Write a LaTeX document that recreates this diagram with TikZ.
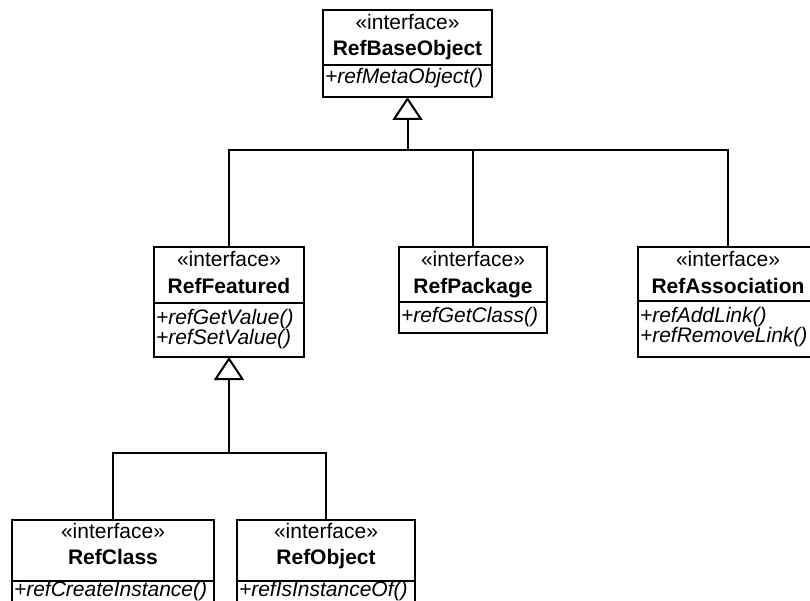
\documentclass[tikz,border=0pt]{standalone}
\usepackage{fontspec}
\setmainfont{Liberation Sans}
\usetikzlibrary{arrows.meta,calc}
\newcommand\hdrtext[3]{\rule{0pt}{#1}«interface»\\\textbf{#3}\rule[-#2]{0pt}{#2}}
\newcommand\opstext[3]{\rule{0pt}{#1}#3\rule[-#2]{0pt}{#2}}
\begin{document}
\begin{tikzpicture}[x=1pt,y=-1pt,
  hdr/.style={draw, line width=2pt, inner sep=0pt, outer sep=0pt, align=center,
    font=\fontsize{21}{26}\selectfont, anchor=north west},
  ops/.style={draw, line width=2pt, inner ysep=0pt, inner xsep=2pt, outer sep=0pt, align=left,
    font=\fontsize{21}{20}\selectfont\itshape, anchor=north west},
  gen/.style={line width=2pt, -{Triangle[open, length=23pt, width=30pt]}},
  branch/.style={line width=1.2pt}]
\useasboundingbox (0,0) rectangle (810,601);
\clip (0,0) rectangle (810,601);

% RefBaseObject
\node[hdr, minimum width=169pt] (baseh) at (323,10) {\hdrtext{20pt}{9pt}{RefBaseObject}};
\node[ops, text width=165pt] (baseo) at (baseh.south west) {\opstext{19pt}{13pt}{+refMetaObject()}};

% RefFeatured
\node[hdr, minimum width=150pt] (feath) at (154,247) {\hdrtext{20pt}{10pt}{RefFeatured}};
\node[ops, text width=146pt] (feato) at (feath.south west) {\opstext{21pt}{13pt}{+refGetValue()\\+refSetValue()}};

% RefPackage
\node[hdr, minimum width=148pt] (pkgh) at (399,247) {\hdrtext{20pt}{9pt}{RefPackage}};
\node[ops, text width=144pt] (pkgo) at (pkgh.south west) {\opstext{20pt}{11pt}{+refGetClass()}};

% RefAssociation
\node[hdr, minimum width=180pt] (assoch) at (638,247) {\hdrtext{20pt}{8pt}{RefAssociation}};
\node[ops, text width=176pt] (assoco) at (assoch.south west) {\opstext{21pt}{15pt}{+refAddLink()\\+refRemoveLink()}};

% RefClass
\node[hdr, minimum width=202pt] (clsh) at (12,520) {\hdrtext{18pt}{17pt}{RefClass}};
\node[ops, text width=198pt] (clso) at (clsh.south west) {\opstext{15pt}{14pt}{+refCreateInstance()}};

% RefObject
\node[hdr, minimum width=178pt] (objh) at (237,520) {\hdrtext{18pt}{17pt}{RefObject}};
\node[ops, text width=174pt] (objo) at (objh.south west) {\opstext{15pt}{14pt}{+refIsInstanceOf()}};

% generalization to RefBaseObject
\coordinate (j1) at (407.5,150);
\draw[gen] (j1) -- (baseo.south);
\draw[branch] (feath.north) |- (j1);
\draw[branch] (assoch.north) |- (j1);
\draw[branch] (pkgh.north) -- (pkgh.north |- j1);

% generalization to RefFeatured
\coordinate (j2) at (229,453);
\draw[gen] (j2) -- (feato.south);
\draw[branch] (clsh.north) |- (j2);
\draw[branch] (objh.north) |- (j2);
\end{tikzpicture}
\end{document}
